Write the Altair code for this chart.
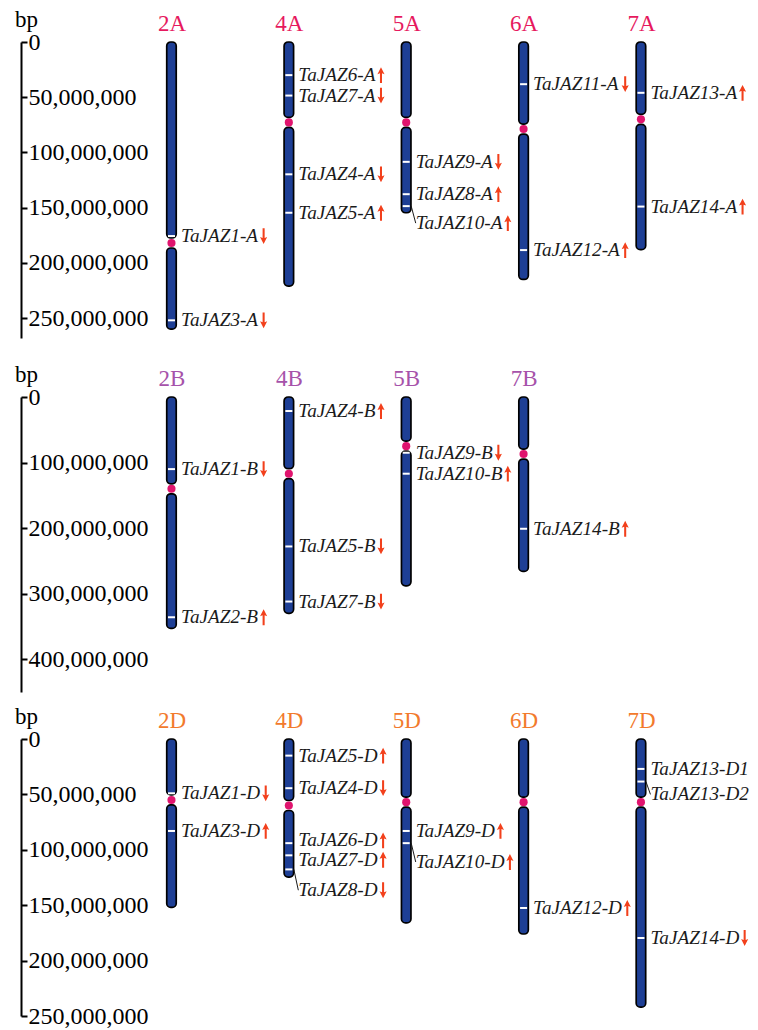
import altair as alt
import pandas as pd

# ---------------- data (positions in Mb) ----------------
A_chrom = ["2A", "4A", "5A", "6A", "7A"]
A_length = [260, 221, 154.6, 215, 188]
A_centromere = [182, 72.8, 72.8, 78.8, 70]
A_gene = ["TaJAZ1-A", "TaJAZ3-A", "TaJAZ6-A", "TaJAZ7-A", "TaJAZ4-A", "TaJAZ5-A",
          "TaJAZ9-A", "TaJAZ8-A", "TaJAZ10-A", "TaJAZ11-A", "TaJAZ12-A",
          "TaJAZ13-A", "TaJAZ14-A"]
A_gene_chrom = ["2A", "2A", "4A", "4A", "4A", "4A", "5A", "5A", "5A", "6A", "6A", "7A", "7A"]
A_gene_pos = [175.7, 252, 30, 48.5, 119.8, 154.6, 108.5, 137.8, 148.6, 38.2, 188.4, 46, 149]
A_label_pos = [175.7, 252, 30, 48.5, 119.8, 154.6, 108.5, 137.8, 164, 38.2, 188.4, 46, 149]
A_direction = ["down", "down", "up", "down", "down", "up", "down", "up", "up",
               "down", "up", "up", "up"]
A_ticks = [0, 50, 100, 150, 200, 250]

B_chrom = ["2B", "4B", "5B", "7B"]
B_length = [353, 330, 288, 266]
B_centromere = [140, 117, 75, 87]
B_gene = ["TaJAZ1-B", "TaJAZ2-B", "TaJAZ4-B", "TaJAZ5-B", "TaJAZ7-B",
          "TaJAZ9-B", "TaJAZ10-B", "TaJAZ14-B"]
B_gene_chrom = ["2B", "2B", "4B", "4B", "4B", "5B", "5B", "7B"]
B_gene_pos = [110, 336, 21.4, 228, 312, 85, 117, 201]
B_label_pos = [110, 336, 21.4, 228, 312, 85, 117, 201]
B_direction = ["down", "up", "up", "down", "down", "down", "up", "up"]
B_ticks = [0, 100, 200, 300, 400]

D_chrom = ["2D", "4D", "5D", "6D", "7D"]
D_length = [152, 124.6, 166, 176, 242]
D_centromere = [55, 60, 57, 57, 57]
D_gene = ["TaJAZ1-D", "TaJAZ3-D", "TaJAZ5-D", "TaJAZ4-D", "TaJAZ6-D", "TaJAZ7-D",
          "TaJAZ8-D", "TaJAZ9-D", "TaJAZ10-D", "TaJAZ12-D", "TaJAZ13-D1",
          "TaJAZ13-D2", "TaJAZ14-D"]
D_gene_chrom = ["2D", "2D", "4D", "4D", "4D", "4D", "4D", "5D", "5D", "6D", "7D", "7D", "7D"]
D_gene_pos = [49, 83, 15, 44.4, 94, 105, 117.7, 83, 94, 152.5, 27, 38.4, 179.6]
D_label_pos = [49, 83, 15, 44.4, 91.5, 109, 136.5, 83, 111, 152.5, 27, 50, 179.6]
D_direction = ["down", "up", "up", "down", "up", "up", "down", "up", "up", "up",
               "", "", "down"]
D_ticks = [0, 50, 100, 150, 200, 250]

UNIT = 1_000_000

# ---------------- styling ----------------
SERIF = "Liberation Serif"
BLUE = "#1E3F95"
PINK = "#E0146E"
RED = "#F2401C"
TEXT = "#1A1A1A"
STEP = 119.0                      # px between chromosome slots
W = 728.5                         # plot width
XMIN = -147.5 / STEP
XMAX = XMIN + W / STEP
FS_LABEL = 19.2
LABEL_DX = 9.5
ARROW_GAP = 5
GLYPH = {"T": 0.556, "a": 0.5, "J": 0.444, "A": 0.611, "Z": 0.556, "-": 0.333,
         "B": 0.611, "D": 0.722}
UP = "M0,-1L0.45,-0.12L0.13,-0.24L0.13,1L-0.13,1L-0.13,-0.24L-0.45,-0.12Z"
DOWN = "M0,1L0.45,0.12L0.13,0.24L0.13,-1L-0.13,-1L-0.13,0.24L-0.45,0.12Z"


def text_width(s):
    return sum(GLYPH.get(c, 0.5) for c in s) * FS_LABEL


def panel(names, lengths, cens, genes, gchrom, gpos, lpos, dirs, ticks, ymax, height, color):
    slot = {n: i for i, n in enumerate(names)}
    px_per_bp = height / (ymax * UNIT)
    gap = 5 / px_per_bp
    arm_rows = []
    for n, L, c in zip(names, lengths, cens):
        arm_rows.append(dict(chrom=n, slot=slot[n], start=0, end=c * UNIT - gap))
        arm_rows.append(dict(chrom=n, slot=slot[n], start=c * UNIT + gap, end=L * UNIT))
    arms = pd.DataFrame(arm_rows)
    cen = pd.DataFrame(dict(chrom=names, slot=[slot[n] for n in names],
                            pos=[c * UNIT for c in cens]))
    g = pd.DataFrame(dict(gene=genes, slot=[slot[c] for c in gchrom],
                          pos=[p * UNIT for p in gpos], lab=[p * UNIT for p in lpos],
                          dir=dirs))
    g["arrow_x"] = g["slot"] + (LABEL_DX + g["gene"].map(text_width) + ARROW_GAP) / STEP
    conn = g[(g["lab"] - g["pos"]).abs() > 5 * UNIT]
    arrows = g[g["dir"] != ""]

    xscale = alt.Scale(domain=[XMIN, XMAX], nice=False, zero=False)
    yscale = alt.Scale(domain=[0, ymax * UNIT], reverse=True, nice=False, zero=False)
    names_js = "[" + ",".join(f"'{n}'" for n in names) + "]"
    xaxis = alt.Axis(orient="top", values=list(range(len(names))),
                     labelExpr=f"{names_js}[datum.value]", domain=False, ticks=False,
                     tickSize=0, grid=False, labelFont=SERIF, labelFontSize=23,
                     labelColor=color, labelPadding=12, labelBaseline="alphabetic",
                     labelAngle=0, labelFlush=False, labelOverlap=False, title=None)
    yaxis = alt.Axis(orient="right", offset=-W, values=[t * UNIT for t in ticks],
                     format=",d", domainColor="black", domainWidth=2, tickColor="black",
                     tickWidth=2, tickSize=6, labelFont=SERIF, labelFontSize=24,
                     labelColor="black", labelPadding=1, labelAlign="left",
                     labelBaseline="middle", labelFlush=False, labelOverlap=False,
                     grid=False, title="bp", titleAngle=0, titleFont=SERIF,
                     titleFontSize=23, titleFontWeight="normal", titleColor="black",
                     titleX=5, titleY=-16, titleAlign="center",
                     titleBaseline="alphabetic")

    def X(f="slot"):
        return alt.X(f"{f}:Q", scale=xscale, axis=xaxis)

    def Y(f):
        return alt.Y(f"{f}:Q", scale=yscale, axis=yaxis)

    bars = alt.Chart(arms).mark_bar(size=9.5, cornerRadius=4, fill=BLUE, stroke="black",
                                    strokeWidth=1.7).encode(x=X(), y=Y("start"), y2="end")
    cdots = alt.Chart(cen).mark_circle(size=66, color=PINK, opacity=1).encode(
        x=X(), y=Y("pos"))
    gticks = alt.Chart(g).mark_tick(orient="horizontal", size=7, thickness=2,
                                    color="white", opacity=1).encode(x=X(), y=Y("pos"))
    lines = alt.Chart(conn).mark_rule(color=TEXT, strokeWidth=1, xOffset=5,
                                      x2Offset=LABEL_DX).encode(
        x=X(), x2="slot:Q", y=Y("pos"), y2="lab:Q")
    labels = alt.Chart(g).mark_text(align="left", baseline="middle", dx=LABEL_DX,
                                    font=SERIF, fontStyle="italic", fontSize=FS_LABEL,
                                    color=TEXT, clip=True).encode(
        x=X(), y=Y("lab"), text="gene:N")
    arr = alt.Chart(arrows).mark_point(filled=True, size=250, color=RED, opacity=1,
                                       strokeWidth=0, clip=True).encode(
        x=X("arrow_x"), y=Y("lab"),
        shape=alt.Shape("dir:N", scale=alt.Scale(domain=["up", "down"], range=[UP, DOWN]),
                        legend=None))
    return alt.layer(bars, cdots, gticks, lines, labels, arr).properties(
        width=W, height=height)


pA = panel(A_chrom, A_length, A_centromere, A_gene, A_gene_chrom, A_gene_pos,
           A_label_pos, A_direction, A_ticks, 268, 296, "#E6195E")
pB = panel(B_chrom, B_length, B_centromere, B_gene, B_gene_chrom, B_gene_pos,
           B_label_pos, B_direction, B_ticks, 450, 295, "#A652AA")
pD = panel(D_chrom, D_length, D_centromere, D_gene, D_gene_chrom, D_gene_pos,
           D_label_pos, D_direction, D_ticks, 250, 277, "#F27A2C")

chart = alt.vconcat(alt.vconcat(pA, pB, spacing=25), pD, spacing=13).properties(
    padding={"left": 6, "top": 0, "right": 0, "bottom": 0}
).configure_view(strokeWidth=0)

chart.save("out.html", embed_options={"renderer": "svg", "actions": False})
